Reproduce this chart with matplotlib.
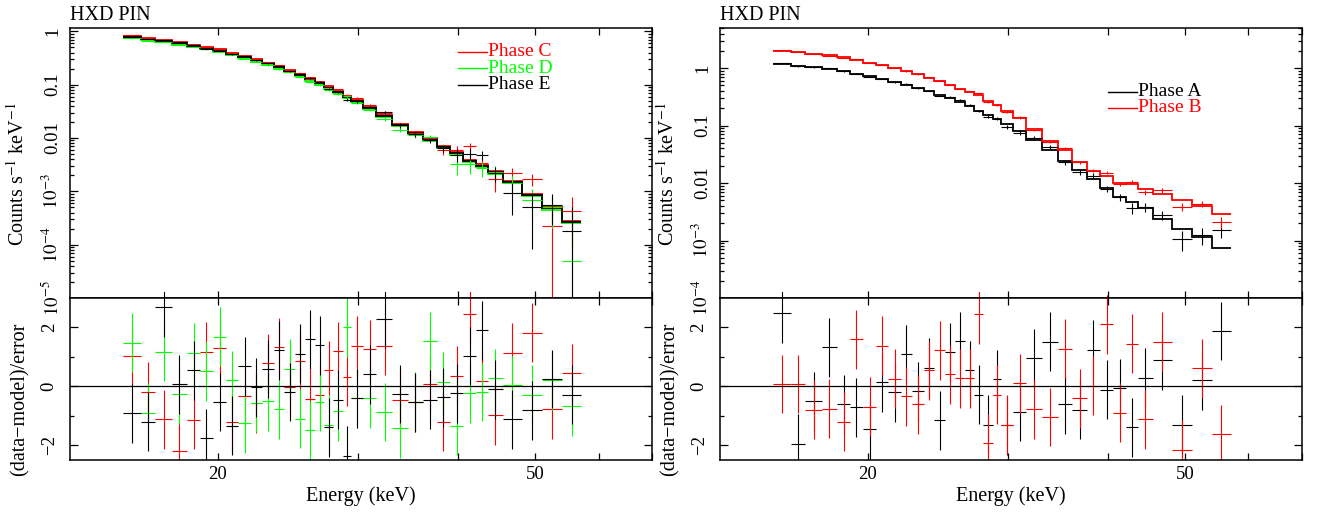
import numpy as np
import matplotlib
matplotlib.use("Agg")
import matplotlib.pyplot as plt
from matplotlib.ticker import NullFormatter
from matplotlib.transforms import Bbox, TransformedBbox

plt.rcParams['font.family'] = ['Liberation Serif', 'DejaVu Serif']
plt.rcParams['mathtext.fontset'] = 'stix'

# energy bin edges (keV), same grouping in both panels
edges = [15.2, 16.0, 16.7, 17.5, 18.3, 19.0, 19.7, 20.5, 21.2, 22.0, 22.7, 23.5,
         24.2, 25.0, 25.7, 26.5, 27.2, 27.9, 28.7, 29.4, 30.4, 31.6, 33.1, 34.6,
         36.1, 37.6, 39.1, 40.6, 42.1, 43.6, 45.5, 48.1, 51.0, 54.0, 57.0]

# left panel: phases C, D, E  (model in counts/s/keV)
model_c = [0.831, 0.752, 0.699, 0.625, 0.563, 0.510, 0.458, 0.398, 0.350, 0.301,
           0.261, 0.223, 0.189, 0.160, 0.1325, 0.1115, 0.0934, 0.0772, 0.0622, 0.0517,
           0.0387, 0.0270, 0.0183, 0.01314, 0.00988, 0.00718, 0.00539, 0.00392,
           0.00316, 0.00237, 0.00158, 0.000890, 0.000501, 0.000281]
model_d = [0.751, 0.680, 0.632, 0.565, 0.509, 0.461, 0.414, 0.360, 0.317, 0.272,
           0.236, 0.201, 0.1706, 0.1448, 0.1198, 0.1008, 0.0844, 0.0697, 0.0562, 0.0467,
           0.0350, 0.0244, 0.0165, 0.01187, 0.00893, 0.00649, 0.00487, 0.00354,
           0.00286, 0.00214, 0.00143, 0.000805, 0.000453, 0.000254]
model_e = [0.799, 0.723, 0.672, 0.601, 0.541, 0.490, 0.440, 0.383, 0.337, 0.289,
           0.251, 0.214, 0.1815, 0.154, 0.1274, 0.1072, 0.0898, 0.0742, 0.0598, 0.0497,
           0.0372, 0.0260, 0.0176, 0.01263, 0.00950, 0.00690, 0.00518, 0.00377,
           0.00304, 0.00228, 0.00152, 0.000856, 0.000482, 0.000270]
resid_c = [1.03, -0.18, -1.11, -2.21, -1.14, 1.18, 1.29, -1.20, -0.33, -0.58,
           0.78, 1.33, -0.01, 0.85, -0.42, -0.29, 0.55, 1.20, 0.33, 1.38,
           1.26, 1.37, -0.46, -0.54, 0.09, -1.21, 0.36, 2.44, 0.18, -0.98,
           1.14, 1.82, -0.78, 0.45]
resid_d = [1.48, -0.89, 1.18, -0.27, 1.14, 0.51, 1.68, 0.21, -1.25, -0.55,
           -0.51, -0.78, 0.60, -1.10, -1.49, -0.53, -1.30, -0.84, 2.00, -0.40,
           -0.40, -0.87, -1.42, -0.52, 1.54, 0.15, -1.33, -0.24, -0.19, 0.27,
           0.03, -0.29, 0.21, -0.67]
resid_e = [-0.92, -1.20, 2.68, 0.07, 0.54, -1.76, -0.53, -1.34, 0.68, -0.03,
           0.59, 1.23, -0.19, 1.11, 1.60, 1.39, -1.39, -0.46, -2.36, -0.40,
           0.41, 2.30, -0.26, -0.54, -0.46, -0.37, -0.24, 1.03, 1.91, -0.10,
           -1.11, -0.81, 0.25, -0.28]
# 1-sigma error as a fraction of the model
frac_err_cde = [0.010, 0.011, 0.012, 0.013, 0.014, 0.015, 0.016, 0.018, 0.019, 0.021,
                0.023, 0.025, 0.027, 0.030, 0.033, 0.036, 0.040, 0.045, 0.050, 0.055,
                0.060, 0.075, 0.090, 0.100, 0.110, 0.150, 0.250, 0.320, 0.300, 0.300,
                0.360, 0.500, 0.700, 1.200]

# right panel: phases A, B
model_a = [1.188, 1.110, 1.041, 0.972, 0.890, 0.805, 0.734, 0.651, 0.577, 0.518,
           0.450, 0.399, 0.347, 0.301, 0.261, 0.220, 0.182, 0.1536, 0.1298, 0.1062,
           0.0809, 0.0563, 0.0377, 0.0246, 0.0169, 0.01179, 0.00812, 0.00580,
           0.00474, 0.00364, 0.00237, 0.00157, 0.00114, 0.00075]
model_b = [2.026, 1.923, 1.789, 1.671, 1.542, 1.406, 1.252, 1.132, 1.004, 0.886,
           0.789, 0.686, 0.594, 0.508, 0.435, 0.390, 0.340, 0.272, 0.229, 0.1825,
           0.1378, 0.0876, 0.0548, 0.0377, 0.0236, 0.01644, 0.01329, 0.01016,
           0.00953, 0.00780, 0.00646, 0.00508, 0.00399, 0.00286]
resid_a = [2.48, -1.95, -0.50, 1.32, -0.61, -0.71, -1.45, 0.14, -0.20, 1.10,
           -0.16, 0.64, -1.15, 1.15, 1.54, 0.55, -0.29, -1.31, 0.24, -1.32,
           -0.87, 0.95, 1.51, -0.61, -0.80, 1.24, -0.12, -0.07, -1.39, 0.29,
           0.89, -1.30, 0.21, 1.88]
resid_b = [0.08, 0.08, -0.80, -0.76, -1.20, 1.60, -0.69, 1.38, 0.26, -0.33,
           -0.60, 0.55, 1.22, 0.41, 0.28, 0.27, 2.45, -1.93, -0.29, -1.30,
           0.10, -0.78, -1.04, 1.28, -0.41, 0.02, 2.11, -0.89, 1.44, -1.12,
           1.51, -2.15, 0.61, -1.62]
frac_err_a = [0.012, 0.013, 0.014, 0.015, 0.016, 0.018, 0.019, 0.021, 0.023, 0.025,
              0.028, 0.031, 0.034, 0.037, 0.041, 0.046, 0.050, 0.056, 0.062, 0.070,
              0.075, 0.080, 0.085, 0.090, 0.100, 0.110, 0.120, 0.140, 0.160, 0.180,
              0.200, 0.250, 0.350, 0.550]
frac_err_b = [0.008, 0.009, 0.009, 0.010, 0.011, 0.012, 0.013, 0.014, 0.015, 0.016,
              0.018, 0.019, 0.021, 0.023, 0.025, 0.027, 0.029, 0.032, 0.035, 0.038,
              0.042, 0.046, 0.050, 0.055, 0.060, 0.065, 0.070, 0.075, 0.080, 0.090,
              0.100, 0.110, 0.130, 0.160]

left_ticks = [1, 0.1, 0.01, 1e-3, 1e-4, 1e-5]
left_ticklabels = ['1', '0.1', '0.01', r'$10^{-3}$', r'$10^{-4}$', r'$10^{-5}$']
right_ticks = [1, 0.1, 0.01, 1e-3, 1e-4]
right_ticklabels = ['1', '0.1', '0.01', r'$10^{-3}$', r'$10^{-4}$']
energy_ticks = [20, 50]
energy_ticklabels = ['20', '50']

GREEN = '#00ff00'
TICK_FS = 13.5
LABEL_FS = 14.5


def panel(left, phases, ylim, yticks, yticklabels, leg_y):
    ax = fig.add_axes([left, 0.4225, 0.4402, 0.5233])
    rax = fig.add_axes([left, 0.1085, 0.4402, 0.3140])
    e = np.array(edges)
    cen = (e[:-1] + e[1:]) / 2
    xerr = [cen - e[:-1], e[1:] - cen]
    for (label, color, model, resid, frac), ly in zip(phases, leg_y):
        model = np.array(model)
        resid = np.array(resid)
        err = np.array(frac) * model
        data = model + resid * err
        ax.stairs(model, e, color=color, lw=1.3, baseline=None)
        ax.errorbar(cen, data, xerr=xerr, yerr=err, fmt='none', ecolor=color,
                    elinewidth=0.8, capsize=0)
        eb = rax.errorbar(cen, resid, xerr=xerr, yerr=np.ones_like(resid), fmt='none',
                          ecolor=color, elinewidth=0.8, capsize=0)
        box = TransformedBbox(Bbox([[0, 0], [1, 1.04]]), rax.transAxes)
        for lc in eb.lines[2]:
            lc.set_clip_path(None)
            lc.set_clip_box(box)
        # legend entry
        ax.plot([0.667, 0.716], [ly, ly], color=color, lw=1.0, transform=ax.transAxes)
        ax.text(0.718, ly, label, color=color, fontsize=LABEL_FS - 0.5, va='center',
                ha='left', transform=ax.transAxes)

    rax.axhline(0, color='black', lw=0.9)

    for a in (ax, rax):
        a.set_xscale('log')
        a.set_xlim(13.05, 70)
        a.set_xticks(energy_ticks, energy_ticklabels)
        a.set_xticks([30, 40, 60, 70], minor=True)
        a.xaxis.set_minor_formatter(NullFormatter())
        a.tick_params(which='both', direction='in', top=True, right=True,
                      labelsize=TICK_FS, width=0.9)
        a.tick_params(axis='x', which='both', length=5, pad=4.0)
        a.tick_params(axis='y', which='major', length=6)
        a.tick_params(axis='y', which='minor', length=3)
        for s in a.spines.values():
            s.set_linewidth(1.1)

    ax.set_yscale('log')
    ax.set_ylim(*ylim)
    ax.set_yticks(yticks, yticklabels, rotation=90, va='center')
    ax.yaxis.set_minor_formatter(NullFormatter())
    ax.tick_params(axis='y', pad=6.0)
    ax.tick_params(axis='x', labelbottom=False)
    ax.set_ylabel(r'Counts s$^{-1}$ keV$^{-1}$', fontsize=LABEL_FS)
    ax.yaxis.set_label_coords(-0.0716, 0.459)
    ax.text(0, 1.03, 'HXD PIN', transform=ax.transAxes, fontsize=LABEL_FS,
            ha='left', va='baseline')

    rax.set_ylim(-2.5, 3)
    rax.set_yticks([2, 0, -2], ['2', '0', '\u22122'], rotation=90, va='center')
    rax.set_yticks([1, -1], minor=True)
    rax.tick_params(axis='y', pad=8.9)
    rax.set_ylabel('(data\u2212model)/error', fontsize=LABEL_FS)
    rax.yaxis.set_label_coords(-0.07, 0.377)
    rax.set_xlabel('Energy (keV)', fontsize=LABEL_FS)
    rax.xaxis.set_label_coords(0.5, -0.165)
    return ax, rax


fig = plt.figure(figsize=(13.22, 5.16), dpi=100)

panel(0.05295,
      [('Phase C', 'red', model_c, resid_c, frac_err_cde),
       ('Phase D', GREEN, model_d, resid_d, frac_err_cde),
       ('Phase E', 'black', model_e, resid_e, frac_err_cde)],
      (1e-5, 1.16), left_ticks, left_ticklabels, [0.912, 0.851, 0.789])

panel(0.5446,
      [('Phase A', 'black', model_a, resid_a, frac_err_a),
       ('Phase B', 'red', model_b, resid_b, frac_err_b)],
      (1e-4, 5.0), right_ticks, right_ticklabels, [0.764, 0.704])

fig.savefig('out.png', dpi=100)
